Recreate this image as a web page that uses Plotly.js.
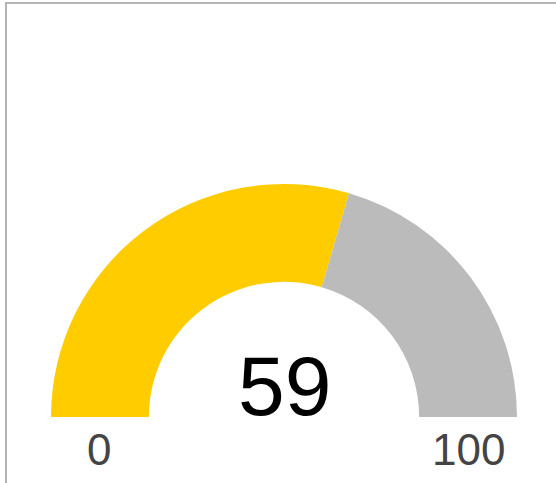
<!DOCTYPE html>
<html>
<head>
<meta charset="utf-8">
<script src="https://cdn.plot.ly/plotly-3.0.1.min.js"></script>
<style>
html, body { margin:0; padding:0; overflow:hidden; background:#fff; width:556px; height:483px; }
#frame { position:absolute; left:5px; top:2px; width:600px; height:600px; border-top:2px solid #b4b4b4; border-left:2px solid #b4b4b4; pointer-events:none; z-index:10; }
#chart { position:absolute; left:0; top:0; }
</style>
</head>
<body>
<div id="chart"></div>
<div id="frame"></div>
<script>
var gaugeValue = 59;
var gaugeMin = 0;
var gaugeMax = 100;
var tickLabels = ['0', '100'];
var sliceColors = ['#FFCC00', '#BBBBBB', 'rgba(0,0,0,0)'];

var W = 556, H = 660;
var cx = 284, cy = 417, R = 233;
var filled = gaugeValue - gaugeMin;
var rest = gaugeMax - gaugeValue;
var hidden = gaugeMax - gaugeMin;

var trace = {
  type: 'pie',
  values: [filled, rest, hidden],
  labels: ['value', 'rest', 'hidden'],
  marker: { colors: sliceColors, line: { width: 0 } },
  hole: 0.58,
  sort: false,
  direction: 'clockwise',
  rotation: -90,
  textinfo: 'none',
  hoverinfo: 'skip',
  showlegend: false,
  domain: { x: [(cx - R) / W, (cx + R) / W], y: [(H - cy - R) / H, (H - cy + R) / H] }
};

function py(p) { return (H - p) / H; }

var layout = {
  width: W, height: H,
  margin: { l: 0, r: 0, t: 0, b: 0 },
  paper_bgcolor: '#fff',
  font: { family: 'Liberation Sans, Arial, sans-serif' },
  showlegend: false,
  annotations: [
    { text: String(gaugeValue), x: cx / W, y: py(386), xref: 'paper', yref: 'paper', xanchor: 'center', yanchor: 'middle', showarrow: false, font: { size: 84, color: '#000' } },
    { text: tickLabels[0], x: 99 / W, y: py(449), xref: 'paper', yref: 'paper', xanchor: 'center', yanchor: 'middle', showarrow: false, font: { size: 44, color: '#444' } },
    { text: tickLabels[1], x: 468 / W, y: py(449), xref: 'paper', yref: 'paper', xanchor: 'center', yanchor: 'middle', showarrow: false, font: { size: 44, color: '#444' } }
  ]
};

Plotly.newPlot('chart', [trace], layout, { displayModeBar: false, staticPlot: true });
</script>
</body>
</html>
